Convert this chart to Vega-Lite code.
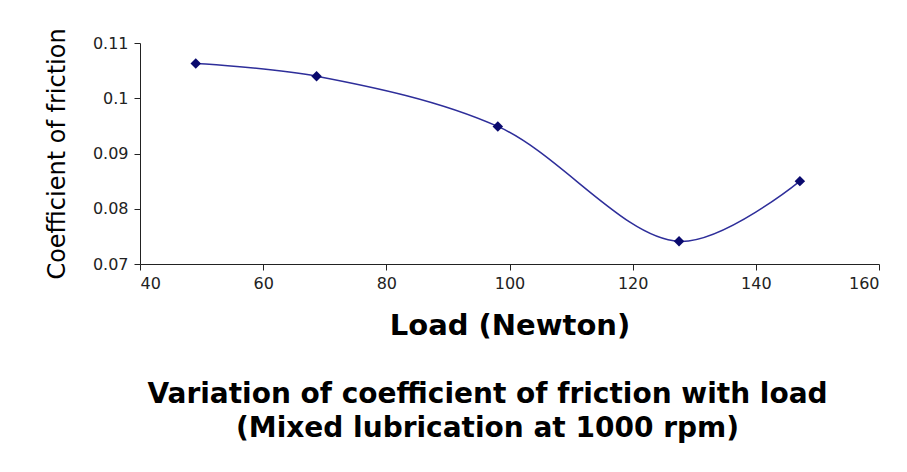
{
  "$schema": "https://vega.github.io/schema/vega-lite/v6.json",
  "width": 739,
  "height": 221,
  "autosize": {"type": "none"},
  "padding": {"left": 140, "top": 43, "right": 28, "bottom": 208},
  "background": "white",
  "config": {
    "view": {"stroke": null},
    "font": "DejaVu Sans",
    "axis": {
      "grid": false,
      "domainColor": "#222222",
      "tickColor": "#222222",
      "tickSize": 6,
      "labelFont": "DejaVu Sans",
      "labelColor": "#222222",
      "titleFont": "DejaVu Sans",
      "titleColor": "#000000"
    }
  },
  "title": {
    "text": ["Variation of coefficient of friction with load", "(Mixed lubrication at 1000 rpm)"],
    "orient": "bottom",
    "anchor": "middle",
    "dx": -22,
    "offset": 41,
    "font": "DejaVu Sans",
    "fontSize": 28,
    "fontWeight": "bold",
    "lineHeight": 34,
    "color": "#000000"
  },
  "data": {
    "values": [
      {"load": 49.05, "cof": 0.1063},
      {"load": 68.67, "cof": 0.1040},
      {"load": 98.1, "cof": 0.0949},
      {"load": 127.53, "cof": 0.0741},
      {"load": 147.15, "cof": 0.0850}
    ]
  },
  "encoding": {
    "x": {
      "field": "load",
      "type": "quantitative",
      "scale": {"domain": [40, 160], "nice": false, "zero": false},
      "axis": {
        "values": [40, 60, 80, 100, 120, 140, 160],
        "title": "Load (Newton)",
        "titleFontSize": 29,
        "titleFontWeight": "bold",
        "titlePadding": 20,
        "labelFontSize": 16,
        "labelPadding": 5
      }
    },
    "y": {
      "field": "cof",
      "type": "quantitative",
      "scale": {"domain": [0.07, 0.11], "nice": false, "zero": false},
      "axis": {
        "values": [0.07, 0.08, 0.09, 0.1, 0.11],
        "format": "~g",
        "title": "Coefficient of friction",
        "titleFontSize": 24,
        "titleFontWeight": "normal",
        "titlePadding": 23,
        "labelFontSize": 16,
        "labelPadding": 6
      }
    }
  },
  "layer": [
    {
      "mark": {"type": "line", "interpolate": "catmull-rom", "color": "#2e2e9a", "strokeWidth": 1.5}
    },
    {
      "mark": {"type": "point", "shape": "diamond", "filled": true, "color": "#0a0a6e", "size": 110, "opacity": 1}
    }
  ]
}
